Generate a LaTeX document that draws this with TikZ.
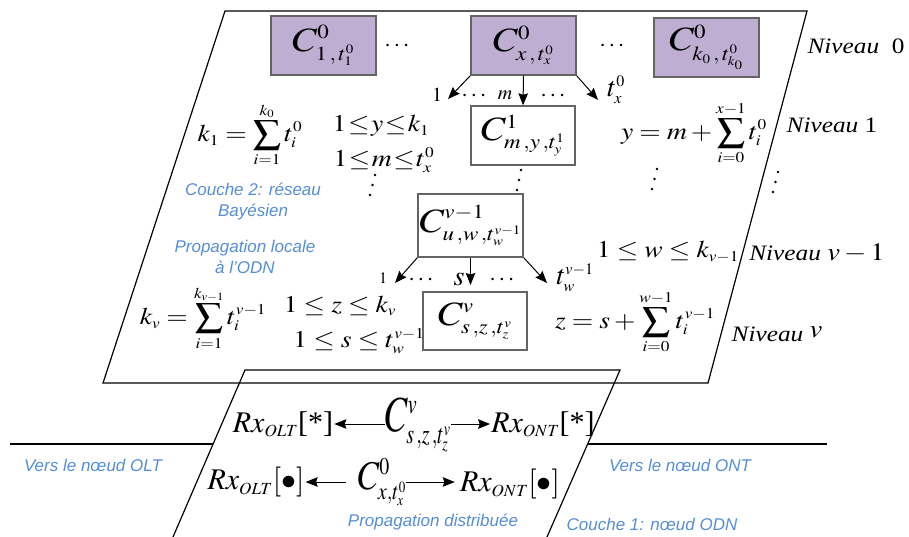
\documentclass[tikz,border=0pt]{standalone}
\usepackage{mathptmx}
\usepackage[no-math]{fontspec}
\setmainfont{Liberation Serif}
\setsansfont{Liberation Sans}
\usetikzlibrary{arrows.meta}
\DeclareMathSizes{34}{34}{20}{13}
\DeclareMathSizes{36}{36}{20}{14}
\DeclareMathSizes{30}{30}{17}{12}
\DeclareMathSizes{28}{28}{16}{11}
\DeclareMathSizes{25}{25}{15}{11}
\DeclareMathSizes{24}{24}{15}{11}
\DeclareMathSizes{22}{22}{14}{10}
\DeclareMathSizes{20}{20}{13}{9}
\DeclareMathSizes{16}{16}{11}{8}
\definecolor{boxpurple}{RGB}{190,174,210}
\definecolor{blueish}{RGB}{85,142,213}
\definecolor{boxedge}{RGB}{100,100,100}
\newcommand{\hs}[1]{\scalebox{1.15}[1]{#1}}
\newcommand{\nvm}[1]{{\fontsize{25}{25}\selectfont$#1$}}
\begin{document}
\begin{tikzpicture}[x=1pt,y=-1pt,
  ln/.style={line width=1.2pt,black},
  boxz/.style={draw=boxedge,line width=1.4pt,fill=boxpurple,minimum width=105pt,minimum height=59pt,inner sep=0pt,font=\fontsize{34}{34}\selectfont},
  boxw/.style={draw=boxedge,line width=1.4pt,fill=white,minimum width=104pt,minimum height=59pt,inner sep=0pt,font=\fontsize{34}{34}\selectfont},
  fm/.style={font=\fontsize{24}{24}\selectfont,inner sep=0pt},
  fml/.style={font=\fontsize{28}{28}\selectfont,inner sep=0pt},
  lab/.style={font=\fontsize{20}{20}\selectfont,inner sep=0pt},
  labs/.style={font=\fontsize{16}{16}\selectfont,inner sep=0pt},
  niv/.style={font=\fontsize{22}{22}\selectfont\itshape,inner sep=0pt},
  rx/.style={font=\fontsize{30}{30}\selectfont,inner sep=1pt},
  cbig/.style={font=\fontsize{36}{36}\selectfont,inner sep=0pt},
  bl/.style={font=\fontsize{17}{21}\selectfont\sffamily\itshape,text=blueish,inner sep=0pt,align=center},
  arr/.style={-{Stealth[length=12pt,width=9.5pt,inset=1.5pt]},line width=1pt,black}]
\useasboundingbox (0,0) rectangle (909,537);
% planes
\coordinate (p1) at (225,11);
\coordinate (p2) at (807,11);
\coordinate (p3) at (708,383);
\coordinate (p4) at (103,383);
\draw[ln] (p1) -- (p2) -- (p3) -- (p4) -- cycle;
\coordinate (q1) at (173,537);
\coordinate (q2) at (245,370);
\coordinate (q3) at (620,370);
\coordinate (q4) at (547,537);
\draw[ln] (q1) -- (q2) -- (q3) -- (q4);
\coordinate (h1) at (10,444);
\coordinate (h2) at (213,444);
\coordinate (h3) at (588,444);
\coordinate (h4) at (827,444);
\draw[ln] (h1) -- (h2);
\draw[ln] (h3) -- (h4);
% level 0
\node[boxz] (b1) at (323.5,45.5) {\hs{$C^{0}_{1\,,\,t_1^0}$}};
\node[boxz] (b2) at (523.5,45.5) {\hs{$C^{0}_{x\,,\,t_x^0}$}};
\node[boxz] (b3) at (706.5,47.5) {\hs{$C^{0}_{k_0\,,\,t_{k_0}^0}$}};
\node[fm] (d1) at (397,46) {$\cdots$};
\node[fm] (d2) at (612,46) {$\cdots$};
% level 1
\node[boxw] (c1) at (523,135.5) {\hs{$C^{1}_{m\,,y\,,t_y^1}$}};
\coordinate (e1) at (448,99);
\coordinate (e3) at (598,100);
\draw[arr] (b2.south west) -- (e1);
\draw[arr] (b2.south) -- (c1.north);
\draw[arr] (b2.south east) -- (e3);
\node[lab] (l1) at (437,95) {$1$};
\node[fm] (d3) at (474,96) {$\cdots$};
\node[lab] (lm) at (505,95) {$m$};
\node[fm] (d4) at (553,96) {$\cdots$};
\node[fml] (tx) at (616,90) {$t_x^0$};
% level v-1
\node[boxw,minimum height=63pt,minimum width=105pt] (cv1) at (470.5,225.5) {\hs{$C^{v-1}_{u\,,w\,,t_w^{v-1}}$}};
\foreach \px/\py in {521/170,519/180,517/190, 375/175,372.5/185,370/195, 657/169,654.5/179,652/189, 778/172,775.5/182,773/192}
  \fill (\px,\py) circle (1.3pt);
\coordinate (e4) at (395,283);
\coordinate (e5) at (470.5,285);
\coordinate (e6) at (547,283);
\draw[arr] (cv1.south west) -- (e4);
\draw[arr] (cv1.south) -- (e5);
\draw[arr] (cv1.south east) -- (e6);
\node[labs] (l2) at (383,278) {$1$};
\node[fm] (d5) at (421,280) {$\cdots$};
\node[fml] (ls) at (459,279) {$s$};
\node[fm] (d6) at (502,280) {$\cdots$};
\node[fml] (tw) at (575,278) {$t_w^{v-1}$};
% level v
\node[boxw,minimum height=58pt] (cv) at (475,321) {\hs{$C^{v}_{s\,,z\,,t_z^v}$}};
% formulas
\node[fm] (f1) at (250,135) {\hs{$k_1=\displaystyle\sum_{i=1}^{k_0} t_i^0$}};
\node[fm] (f2) at (381,126) {\hs{$\thickmuskip=1mu 1\le y\le k_1$}};
\node[fm] (f3) at (384,160) {\hs{$\thickmuskip=1mu 1\le m\le t_x^0$}};
\node[fm] (f4) at (694,133) {\hs{$y=m+\displaystyle\sum_{i=0}^{x-1} t_i^0$}};
\node[fm] (f5) at (668,252) {\hs{$1\le w\le k_{v-1}$}};
\node[fm] (f6) at (203,318) {\hs{$k_v=\displaystyle\sum_{i=1}^{k_{v-1}} t_i^{v-1}$}};
\node[fm] (f7) at (340,306) {\hs{$1\le z\le k_v$}};
\node[fm] (f8) at (359,341) {\hs{$1\le s\le t_w^{v-1}$}};
\node[fm] (f9) at (635,322) {\hs{$z=s+\displaystyle\sum_{i=0}^{w-1} t_i^{v-1}$}};
% niveau labels
\node[niv] (n0) at (856,46) {\hs{Niveau~~\textup{0}}};
\node[niv] (n1) at (832,125) {\hs{Niveau \textup{1}}};
\node[niv] (n2) at (817,253) {\hs{Niveau \nvm{v-1}}};
\node[niv] (n3) at (777,334) {\hs{Niveau \raisebox{4pt}{\nvm{v}}}};
% blue texts
\node[bl] (t1) at (253,202) {Couche 2: réseau\\Bayésien};
\node[bl] (t2) at (245,257) {Propagation locale\\à l’ODN};
\node[bl] (t3) at (433,522) {Propagation distribuée};
\node[bl] (t4) at (93,465) {Vers le nœud OLT};
\node[bl] (t5) at (680,465) {Vers le nœud ONT};
\node[bl] (t6) at (652,524) {Couche 1: nœud ODN};
% layer 1
\node[rx] (rx1) at (283,424) {$Rx_{OLT}$[*]};
\node[cbig] (cvl) at (418,425) {\scalebox{1}[1.4]{$C^v_{s\,,z\,,t_z^v}$}};
\node[rx] (rx2) at (543,424) {$Rx_{ONT}$[*]};
\node[rx] (rx3) at (256,482) {$Rx_{OLT}[\bullet]$};
\node[cbig,font=\fontsize{34}{34}\selectfont] (c0l) at (382,482) {\scalebox{1}[1.2]{$C^0_{x,t_x^0}$}};
\node[rx] (rx4) at (510,484) {$Rx_{ONT}[\bullet]$};
\draw[arr] (cvl.west |- rx1.east) -- (rx1.east);
\draw[arr] (cvl.east |- rx2.west) -- (rx2.west);
\draw[arr] ([xshift=-12pt]c0l.west |- rx3.east) -- (rx3.east);
\draw[arr] (c0l.east |- rx3.east) -- ([xshift=-4pt]rx4.west |- rx3.east);
\end{tikzpicture}
\end{document}
